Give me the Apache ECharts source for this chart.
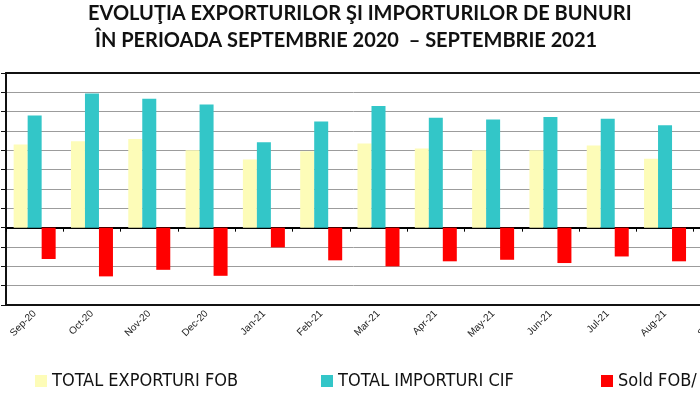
<!DOCTYPE html>
<html>
<head>
<meta charset="utf-8">
<script src="https://cdn.jsdelivr.net/npm/echarts@6/dist/echarts.min.js"></script>
<style>
  html, body { margin: 0; padding: 0; background: #fff; }
  #chart { width: 700px; height: 400px; }
</style>
</head>
<body>
<div id="chart"></div>
<script>
const categories = ['Sep-20','Oct-20','Nov-20','Dec-20','Jan-21','Feb-21','Mar-21','Apr-21','May-21','Jun-21','Jul-21','Aug-21','Sep-21'];
const exportsFOB = [4300, 4470, 4590, 4000, 3520, 3950, 4350, 4090, 4000, 4000, 4250, 3560, 4400];
const importsCIF = [5800, 6940, 6670, 6370, 4420, 5490, 6290, 5680, 5600, 5720, 5630, 5300, 6100];
const soldFOBCIF = [-1620, -2520, -2180, -2490, -1020, -1690, -2000, -1740, -1660, -1830, -1490, -1740, -1700];
const seriesNames = ['TOTAL EXPORTURI FOB', 'TOTAL IMPORTURI CIF', 'Sold FOB/ CIF'];
const titleLine1 = 'EVOLUŢIA EXPORTURILOR ŞI IMPORTURILOR DE BUNURI';
const titleLine2 = 'ÎN PERIOADA SEPTEMBRIE 2020  – SEPTEMBRIE 2021';
const yMin = -4000, yMax = 8000, yStep = 1000;

const chart = echarts.init(document.getElementById('chart'), null, { renderer: 'canvas' });
const legendText = { fontFamily: '"Liberation Sans Narrow", "DejaVu Sans Condensed", "Liberation Sans", sans-serif', fontSize: 18, color: '#111' };
const titleText = { fontFamily: 'Lato, "Open Sans", sans-serif', fontWeight: 'bold', fontSize: 20, color: '#111' };

chart.setOption({
  animation: false,
  backgroundColor: '#fff',
  title: [
    { text: titleLine1, left: 83, top: -1, textStyle: titleText },
    { text: titleLine2, left: 90, top: 26, textStyle: titleText }
  ],
  legend: [
    { data: [seriesNames[0]], left: 30, top: 367, icon: 'rect', itemWidth: 12, itemHeight: 12, itemGap: 5, textStyle: legendText },
    { data: [seriesNames[1]], left: 316, top: 367, icon: 'rect', itemWidth: 12, itemHeight: 12, itemGap: 5, textStyle: legendText },
    { data: [seriesNames[2]], left: 596, top: 367, icon: 'rect', itemWidth: 12, itemHeight: 12, itemGap: 5, textStyle: legendText }
  ],
  grid: { left: 6, top: 73, width: 745, height: 232, containLabel: false, outerBoundsMode: 'none' },
  xAxis: [
    {
      type: 'category', data: categories, position: 'bottom',
      axisLine: { onZero: false, show: true, lineStyle: { color: '#111', width: 2 } },
      axisTick: { show: false },
      axisLabel: { rotate: 45, fontSize: 10, margin: 7, color: '#222', fontFamily: '"Liberation Sans", sans-serif', interval: 0 },
      splitLine: { show: false }
    },
    {
      type: 'category', data: categories, position: 'bottom',
      axisLine: { onZero: true, show: true, lineStyle: { color: '#000', width: 2 } },
      axisTick: { show: true, length: 4, lineStyle: { color: '#000', width: 1 } },
      axisLabel: { show: false },
      splitLine: { show: false }
    },
    {
      type: 'category', data: categories, position: 'top',
      axisLine: { onZero: false, show: true, lineStyle: { color: '#111', width: 2 } },
      axisTick: { show: false },
      axisLabel: { show: false },
      splitLine: { show: false }
    }
  ],
  yAxis: {
    type: 'value', min: yMin, max: yMax, interval: yStep,
    axisLine: { show: true, lineStyle: { color: '#111', width: 2 } },
    axisTick: { show: true, length: 5, lineStyle: { color: '#111' } },
    axisLabel: { show: false },
    splitLine: { show: true, lineStyle: { color: '#9c9c9c', width: 1 } }
  },
  series: [
    { name: seriesNames[0], type: 'bar', data: exportsFOB, barWidth: 14, barGap: '0%', itemStyle: { color: '#FDFCB8' } },
    { name: seriesNames[1], type: 'bar', data: importsCIF, barWidth: 14, barGap: '0%', itemStyle: { color: '#33C6C8' } },
    { name: seriesNames[2], type: 'bar', data: soldFOBCIF, barWidth: 14, barGap: '0%', itemStyle: { color: '#FF0000' } }
  ]
});
</script>
</body>
</html>
